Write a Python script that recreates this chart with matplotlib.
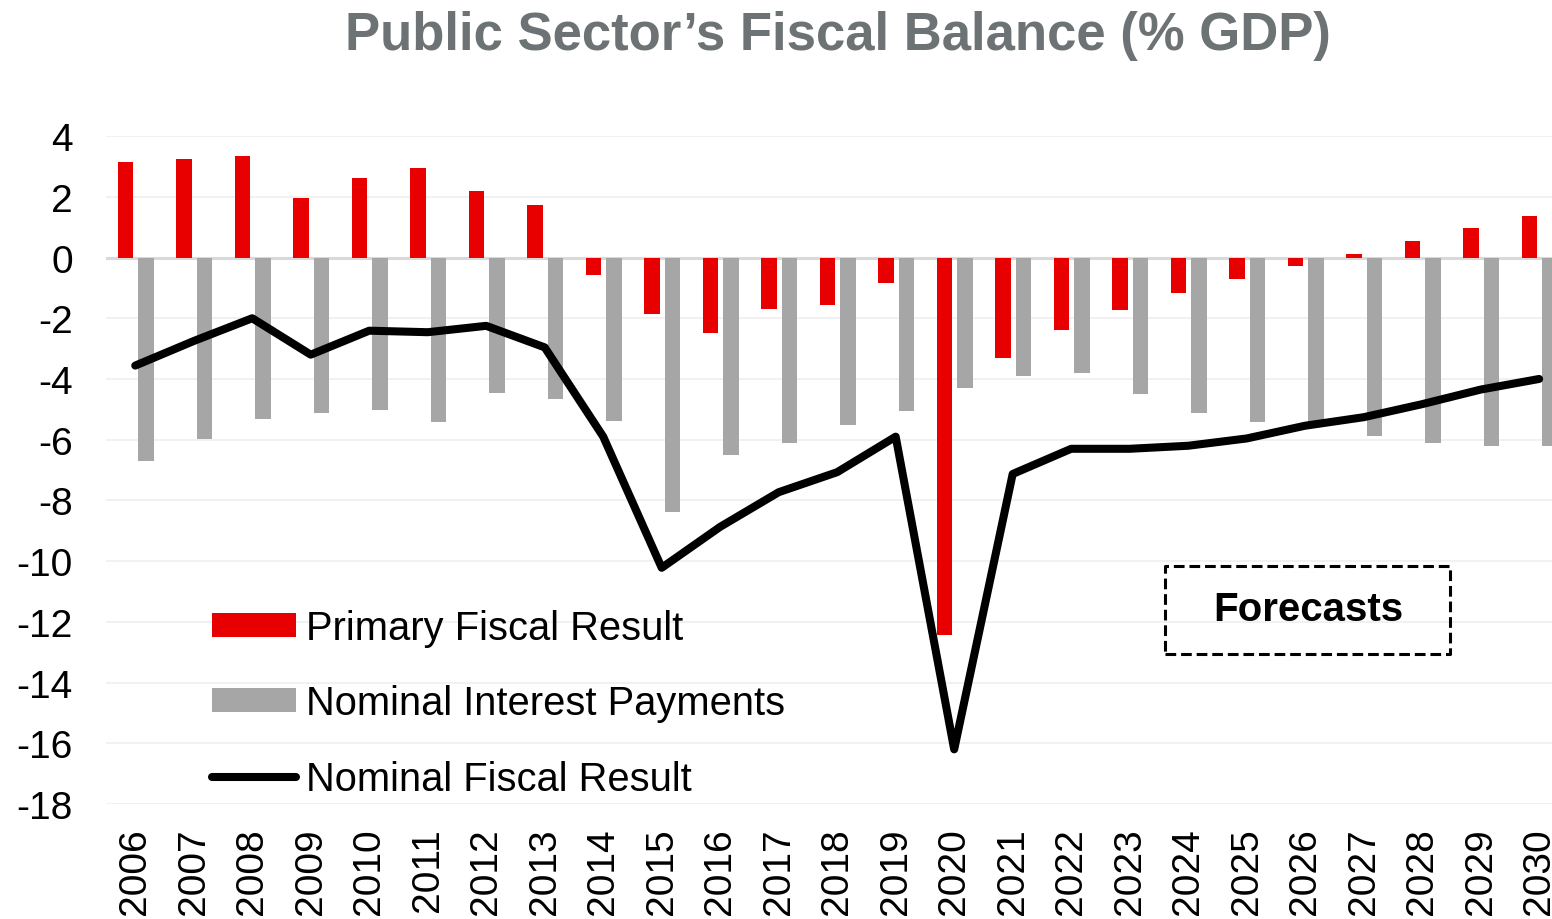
import numpy as np
import matplotlib
matplotlib.use("Agg")
from matplotlib import pyplot as plt
from matplotlib.patches import Rectangle

plt.rcParams['font.family'] = ['Liberation Sans', 'DejaVu Sans']
plt.rcParams['axes.unicode_minus'] = False

years = [str(y) for y in range(2006, 2031)]

# % of GDP
primary = [3.15, 3.24, 3.33, 1.95, 2.61, 2.95, 2.18, 1.72, -0.57, -1.85,
           -2.50, -1.69, -1.58, -0.85, -12.42, -3.31, -2.38, -1.72, -1.16, -0.71,
           -0.28, 0.12, 0.54, 0.96, 1.37]
interest = [-6.71, -5.99, -5.33, -5.13, -5.02, -5.41, -4.45, -4.67, -5.39, -8.37,
            -6.50, -6.12, -5.51, -5.06, -4.30, -3.90, -3.79, -4.51, -5.11, -5.42,
            -5.50, -5.89, -6.11, -6.22, -6.22]
nominal = [-3.56, -2.75, -2.00, -3.20, -2.41, -2.46, -2.25, -2.96, -5.90, -10.22,
           -8.87, -7.73, -7.07, -5.90, -16.20, -7.13, -6.30, -6.30, -6.20, -5.96,
           -5.54, -5.26, -4.83, -4.35, -4.00]

x = np.arange(len(years))

fig = plt.figure(figsize=(15.52, 9.2), dpi=100)
ax = fig.add_axes([0.0683, 0.125, 0.9317, 0.726])

b1 = ax.bar(x - 0.165, primary, width=0.265, color='#e80000', label='Primary Fiscal Result', zorder=2)
b2 = ax.bar(x + 0.185, interest, width=0.26, color='#a6a6a6', label='Nominal Interest Payments', zorder=2)
l1, = ax.plot(x, nominal, color='black', lw=5.8, solid_joinstyle='round', solid_capstyle='round',
              label='Nominal Fiscal Result', zorder=4)

ax.axhline(0, color='#d9d9d9', lw=2.2, zorder=1)

ax.set_ylim(-18, 4)
ax.set_yticks(np.arange(-18, 5, 2))
ax.set_xlim(-0.5, 24.22)
ax.set_xticks(x)
ax.set_xticklabels(years, rotation=90)
ax.grid(axis='y', color='#f0f0f0', lw=1.3, zorder=0)
ax.set_axisbelow(True)
for s in ax.spines.values():
    s.set_visible(False)
ax.tick_params(axis='both', length=0, labelsize=28)
ax.tick_params(axis='y', pad=24)
ax.tick_params(axis='x', pad=17)

fig.suptitle('Public Sector\u2019s Fiscal Balance (% GDP)', x=0.54, y=0.988,
             fontsize=38, fontweight='bold', color='#6d7375')

ax.legend(handles=[b1, b2, l1], loc='upper left', bbox_to_anchor=(0.1366, 0.337),
          bbox_transform=fig.transFigure, frameon=False, fontsize=28.7,
          handlelength=2.1, handleheight=0.55, handletextpad=0.25,
          labelspacing=0.94, borderpad=0, borderaxespad=0)

# dashed box marking the projected years
box = Rectangle((0.7506, 0.2880), 0.1836, 0.0957, transform=fig.transFigure,
                fill=False, edgecolor='black', lw=2.2, linestyle=(0, (3.5, 1.6)),
                joinstyle='round', zorder=5)
fig.patches.append(box)
fig.text(0.8428, 0.337, 'Forecasts', ha='center', va='center',
         fontsize=29, fontweight='bold', color='black')

fig.savefig('out.png', dpi=100)
